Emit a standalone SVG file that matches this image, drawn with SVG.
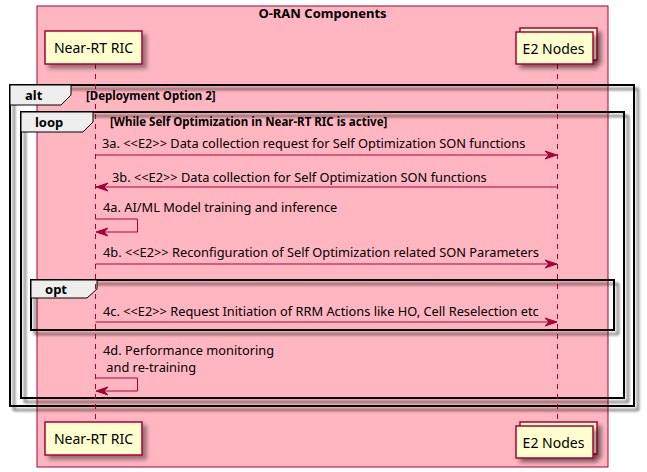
<svg xmlns="http://www.w3.org/2000/svg" width="647" height="472" viewBox="0 0 647 472">
<defs>
<filter id="sh" x="-1" y="-1" width="300%" height="300%">
<feGaussianBlur in="SourceAlpha" stdDeviation="2" result="b"/>
<feColorMatrix in="b" type="matrix" values="0 0 0 0 0 0 0 0 0 0 0 0 0 0 0 0 0 0 .4 0" result="b2"/>
<feOffset in="b2" dx="4" dy="4" result="b3"/>
<feBlend in="SourceGraphic" in2="b3" mode="normal"/>
</filter>
<filter id="shf" x="-1" y="-1" width="300%" height="300%">
<feGaussianBlur in="SourceAlpha" stdDeviation="1.5" result="b"/>
<feColorMatrix in="b" type="matrix" values="0 0 0 0 0 0 0 0 0 0 0 0 0 0 0 0 0 0 .6 0" result="b2"/>
<feOffset in="b2" dx="4" dy="4" result="b3"/>
<feBlend in="SourceGraphic" in2="b3" mode="normal"/>
</filter>
</defs>
<style>
text{font-family:"Noto Sans","Open Sans","Liberation Sans",sans-serif;fill:#000}
.title{font-size:13px;font-weight:bold}
.kw{font-size:13px;font-weight:bold}
.cond{font-size:11.5px;font-weight:bold}
.msg{font-size:12.8px}
.pt{font-size:14px}
.frame{fill:none;stroke:#000;stroke-width:2}
.tab{fill:#EEEEEE;stroke:#000;stroke-width:1}
.life{stroke:#A80036;stroke-width:1;stroke-dasharray:5,5;fill:none}
.line{stroke:#A80036;stroke-width:1;fill:none}
.head{fill:#A80036;stroke:#A80036;stroke-width:1}
.part{fill:#FEFECE;stroke:#A80036;stroke-width:1.5}
</style>
<rect x="0" y="0" width="647" height="472" fill="#FFFFFF"/>
<g id="box-oran">
<rect x="37" y="6" width="571" height="461" fill="#FFB6C1" stroke="#A80036" stroke-width="1"/>
<text class="title" x="322.5" y="18" text-anchor="middle">O-RAN Components</text>
</g>
<g id="frame-alt">
<rect class="frame" x="10" y="85" width="624" height="321" filter="url(#shf)"/>
<polygon class="tab" points="10,85 71,85 71,95 61,105 10,105"/>
<text class="kw" x="25" y="100">alt</text>
<text class="cond" x="86" y="100">[Deployment Option 2]</text>
</g>
<g id="frame-loop">
<rect class="frame" x="21" y="112" width="603" height="286" filter="url(#shf)"/>
<polygon class="tab" points="21,112 93,112 93,122 83,132 21,132"/>
<text class="kw" x="35" y="127">loop</text>
<text class="cond" x="110" y="126">[While Self Optimization in Near-RT RIC is active]</text>
</g>
<g id="frame-opt">
<rect class="frame" x="31" y="280" width="583" height="50" filter="url(#shf)"/>
<polygon class="tab" points="31,280 97,280 97,289 87,298 31,298"/>
<text class="kw" x="45" y="294">opt</text>
</g>
<g id="lifelines">
<line class="life" x1="95.5" y1="64" x2="95.5" y2="422"/>
<line class="life" x1="557.5" y1="64" x2="557.5" y2="422"/>
</g>
<g id="connectors">
<g id="m3a">
<line class="line" x1="95.5" y1="155" x2="556" y2="155"/>
<polygon class="head" points="545,151 557,155 545,159 549,155"/>
<text class="msg" x="102" y="148">3a. &lt;&lt;E2&gt;&gt; Data collection request for Self Optimization SON functions</text>
</g>
<g id="m3b">
<line class="line" x1="557.5" y1="187" x2="97" y2="187"/>
<polygon class="head" points="108,183 96,187 108,191 104,187"/>
<text class="msg" x="112" y="182">3b. &lt;&lt;E2&gt;&gt; Data collection for Self Optimization SON functions</text>
</g>
<g id="m4a">
<polyline class="line" points="95.5,219 137.5,219 137.5,232 97,232"/>
<polygon class="head" points="108,228 96,232 108,236 104,232"/>
<text class="msg" x="103" y="212">4a. AI/ML Model training and inference</text>
</g>
<g id="m4b">
<line class="line" x1="95.5" y1="264" x2="556" y2="264"/>
<polygon class="head" points="545,260 557,264 545,268 549,264"/>
<text class="msg" x="103" y="257">4b. &lt;&lt;E2&gt;&gt; Reconfiguration of Self Optimization related SON Parameters</text>
</g>
<g id="m4c">
<line class="line" x1="95.5" y1="322" x2="556" y2="322"/>
<polygon class="head" points="545,318 557,322 545,326 549,322"/>
<text class="msg" x="103" y="316">4c. &lt;&lt;E2&gt;&gt; Request Initiation of RRM Actions like HO, Cell Reselection etc</text>
</g>
<g id="m4d">
<polyline class="line" points="95.5,378 137.5,378 137.5,391 97,391"/>
<polygon class="head" points="108,387 96,391 108,395 104,391"/>
<text class="msg" x="103" y="355">4d. Performance monitoring</text>
<text class="msg" x="103" y="372" xml:space="preserve"> and re-training</text>
</g>
</g>
<g id="near-rt-ric-top">
<rect class="part" x="45" y="31" width="97" height="33" filter="url(#sh)"/>
<text class="pt" x="93.5" y="53" text-anchor="middle">Near-RT RIC</text>
</g>
<g id="e2-nodes-top">
<rect class="part" x="520" y="28" width="77" height="32" filter="url(#sh)"/>
<rect class="part" x="516" y="32" width="77" height="32" filter="url(#sh)"/>
<text class="pt" x="553.5" y="54" text-anchor="middle">E2 Nodes</text>
</g>
<g id="near-rt-ric-bottom">
<rect class="part" x="45" y="422" width="97" height="33" filter="url(#sh)"/>
<text class="pt" x="93.5" y="444" text-anchor="middle">Near-RT RIC</text>
</g>
<g id="e2-nodes-bottom">
<rect class="part" x="520" y="422" width="77" height="32" filter="url(#sh)"/>
<rect class="part" x="516" y="426" width="77" height="32" filter="url(#sh)"/>
<text class="pt" x="553.5" y="448" text-anchor="middle">E2 Nodes</text>
</g>
</svg>
